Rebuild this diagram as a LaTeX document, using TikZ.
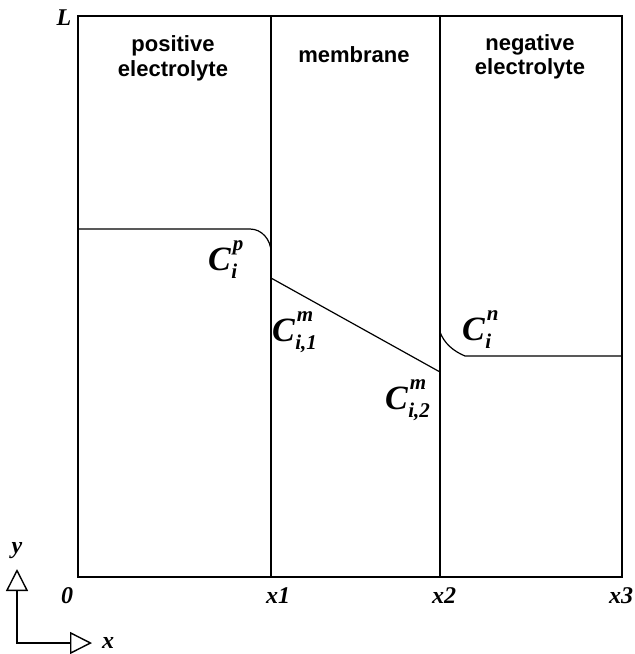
\documentclass[tikz,border=0pt]{standalone}
\usepackage{fontspec}
\setmainfont{Liberation Serif}
\setsansfont{Liberation Sans}
\usetikzlibrary{arrows.meta}
\newcommand\concscriptsize{\fontsize{21}{21}\selectfont}
\newcommand\concsym[2]{C\rlap{\kern2pt\raisebox{20pt}{\concscriptsize #1}}\kern0.5pt\raisebox{-8pt}{\concscriptsize #2}}
\begin{document}
\begin{tikzpicture}[x=1pt,y=-1pt,
  wall/.style={line width=1.6pt},
  prof/.style={line width=1.2pt},
  head/.style={font=\sffamily\bfseries\fontsize{22}{24.5}\selectfont, align=center, inner sep=0pt},
  lab/.style={font=\bfseries\itshape\fontsize{24}{24}\selectfont, inner sep=0pt},
  conc/.style={font=\bfseries\itshape\fontsize{34}{34}\selectfont, inner sep=0pt, anchor=base west},
  axis/.style={line width=1.4pt, {Triangle[open,length=22pt,width=22pt,line width=1.4pt]}-{Triangle[open,length=22pt,width=22pt,line width=1.4pt]}}]
\useasboundingbox (0,0) rectangle (635,654);
% walls
\draw[wall] (78,16) rectangle (622,577);
\draw[wall] (271,16) -- (271,577);
\draw[wall] (440,16) -- (440,577);
% concentration profiles
\draw[prof] (78,229) -- (250,229) .. controls (262,229) and (271,240) .. (271,252);
\draw[prof] (271,278) -- (440,372);
\draw[prof] (440,332) .. controls (444,343) and (453,351) .. (465,356) -- (622,356);
% headings
\node[head] (hp) at (173,58.5) {positive\\electrolyte};
\node[head, anchor=base] (hm) at (354,62) {membrane};
\node[head] (hn) at (530,57) {negative\\electrolyte};
% axis labels
\node[lab, anchor=base] (lL) at (64,25) {L};
\node[lab, anchor=base] (l0) at (67,603) {0};
\node[lab, anchor=base] (lx1) at (278,603) {x1};
\node[lab, anchor=base] (lx2) at (444,603) {x2};
\node[lab, anchor=base] (lx3) at (621,603) {x3};
% coordinate axes
\coordinate (ytip) at (17,569);
\coordinate (orig) at (17,643);
\coordinate (xtip) at (92,643);
\draw[axis] (ytip) -- (orig) -- (xtip);
\node[lab, anchor=base] (ly) at (17,553) {y};
\node[lab, anchor=base] (lx) at (108,648) {x};
% concentration labels
\node[conc] (cp) at (208,270) {\concsym{p}{i}};
\node[conc] (cm1) at (272,341) {\concsym{m}{i,1}};
\node[conc] (cm2) at (385,409) {\concsym{m}{i,2}};
\node[conc] (cn) at (462,340) {\concsym{n}{i}};
\end{tikzpicture}
\end{document}
